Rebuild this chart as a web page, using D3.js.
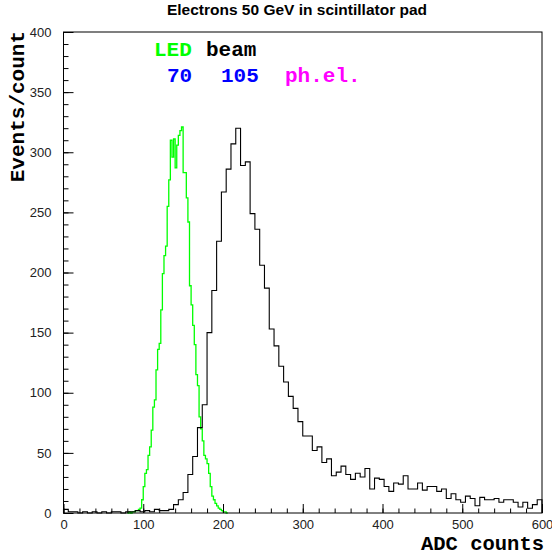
<!DOCTYPE html>
<html>
<head>
<meta charset="utf-8">
<script src="https://cdn.jsdelivr.net/npm/d3@7"></script>
<style>
  html, body { margin: 0; padding: 0; background: #fff; }
  svg { display: block; }
</style>
</head>
<body>
<svg id="chart" width="552" height="556"></svg>
<script>
// ---- data ----
const title = "Electrons 50 GeV in scintillator pad";
const xLabel = "ADC counts";
const yLabel = "Events/count";
const xDomain = [0, 600];
const yDomain = [0, 400];
const xMajorTicks = [0, 100, 200, 300, 400, 500, 600];
const yMajorTicks = [0, 50, 100, 150, 200, 250, 300, 350, 400];

// beam histogram: 100 bins of width 6 starting at 0
const beamStart = 0;
const beamWidth = 6;
const beamCounts = [
  3, 1, 1, 0, 1, 0, 1, 0, 1, 0,
  1, 1, 0, 1, 1, 2, 1, 2, 1, 3,
  2, 2, 3, 7, 11, 17, 32, 47, 71, 90,
  150, 185, 226, 267, 286, 307, 320, 289, 292, 249,
  236, 206, 187, 153, 139, 122, 109, 97, 87, 76,
  64, 64, 52, 55, 42, 45, 31, 34, 39, 32,
  28, 33, 30, 37, 20, 29, 28, 22, 18, 25,
  24, 31, 20, 20, 25, 19, 22, 22, 18, 20,
  12, 16, 11, 9, 14, 12, 6, 13, 11, 11,
  12, 9, 11, 11, 9, 5, 9, 4, 7, 11
];

// LED histogram: bins of width 2 starting at 80
const ledStart = 80;
const ledWidth = 2;
const ledCounts = [
  0, 1, 0, 1, 1, 2, 2, 3, 4, 11,
  22, 33, 36, 48, 55, 69, 88, 94, 119, 136,
  141, 169, 199, 214, 222, 255, 277, 310, 296, 311,
  287, 306, 314, 318, 321, 283, 283, 262, 242, 189,
  173, 156, 140, 115, 106, 80, 70, 60, 48, 45,
  41, 33, 22, 14, 11, 8, 6, 4, 3, 2,
  1, 1, 0
];

// legend texts
const legendRow1 = [{text: "LED", color: "#00ff00"}, {text: "beam", color: "#000000"}];
const legendRow2 = [{text: "70", color: "#0000ff"}, {text: "105", color: "#0000ff"}, {text: "ph.el.", color: "#ff00ff"}];

// ---- drawing ----
const svg = d3.select("#chart");
const L = 63.5, R = 542, T = 32, B = 513;
const x = d3.scaleLinear().domain(xDomain).range([L, R]);
const y = d3.scaleLinear().domain(yDomain).range([B, T]);

const mono = "'Liberation Mono','Courier New',Courier,monospace";
const sans = "'Liberation Sans',Arial,Helvetica,sans-serif";

function histPoints(start, width, counts) {
  const pts = [[x(start), y(0)]];
  counts.forEach((c, i) => {
    const a = start + i * width, b = a + width;
    pts.push([x(a), y(c)]);
    pts.push([x(b), y(c)]);
  });
  pts.push([x(start + counts.length * width), y(0)]);
  return pts;
}
const line = d3.line();

svg.append("path")
  .attr("d", line(histPoints(ledStart, ledWidth, ledCounts)))
  .attr("fill", "none").attr("stroke", "#00ff00").attr("stroke-width", 1.3);

svg.append("path")
  .attr("d", line(histPoints(beamStart, beamWidth, beamCounts)))
  .attr("fill", "none").attr("stroke", "#000").attr("stroke-width", 1.1);

// axes
const gxMinor = svg.append("g").attr("transform", `translate(0,${B})`)
  .call(d3.axisBottom(x).tickValues(d3.range(0, 601, 20)).tickSize(-4.5).tickFormat(""));
const gx = svg.append("g").attr("transform", `translate(0,${B})`)
  .call(d3.axisBottom(x).tickValues(xMajorTicks).tickSize(-9).tickPadding(7));
const gyMinor = svg.append("g").attr("transform", `translate(${L},0)`)
  .call(d3.axisLeft(y).tickValues(d3.range(0, 401, 10)).tickSize(-5).tickFormat(""));
const gy = svg.append("g").attr("transform", `translate(${L},0)`)
  .call(d3.axisLeft(y).tickValues(yMajorTicks).tickSize(-10).tickPadding(12));

[gxMinor, gx, gyMinor, gy].forEach(g => {
  g.select(".domain").remove();
  g.selectAll("line").attr("stroke", "#000").attr("stroke-width", 1);
  g.selectAll("text").attr("font-family", sans).attr("font-size", 13).attr("fill", "#222");
});

svg.append("rect")
  .attr("x", L).attr("y", T).attr("width", R - L).attr("height", B - T)
  .attr("fill", "none").attr("stroke", "#000").attr("stroke-width", 1);

// title
svg.append("text")
  .attr("x", 297).attr("y", 15)
  .attr("text-anchor", "middle")
  .attr("font-family", sans).attr("font-weight", "bold").attr("font-size", 15.5)
  .text(title);

// axis labels
svg.append("text")
  .attr("x", 544).attr("y", 550)
  .attr("text-anchor", "end")
  .attr("font-family", mono).attr("font-weight", "bold").attr("font-size", 20.5)
  .text(xLabel);

svg.append("text")
  .attr("transform", "translate(24,31) rotate(-90)")
  .attr("text-anchor", "end")
  .attr("font-family", mono).attr("font-weight", "bold").attr("font-size", 21)
  .text(yLabel);

// legend
const row1X = [154, 206];
const row2X = [167, 221, 285];
svg.selectAll(".leg1").data(legendRow1).enter().append("text")
  .attr("x", (d, i) => row1X[i]).attr("y", 56)
  .attr("font-family", mono).attr("font-weight", "bold").attr("font-size", 21)
  .attr("fill", d => d.color).text(d => d.text);
svg.selectAll(".leg2").data(legendRow2).enter().append("text")
  .attr("x", (d, i) => row2X[i]).attr("y", 82)
  .attr("font-family", mono).attr("font-weight", "bold").attr("font-size", 21)
  .attr("fill", d => d.color).text(d => d.text);
</script>
</body>
</html>
